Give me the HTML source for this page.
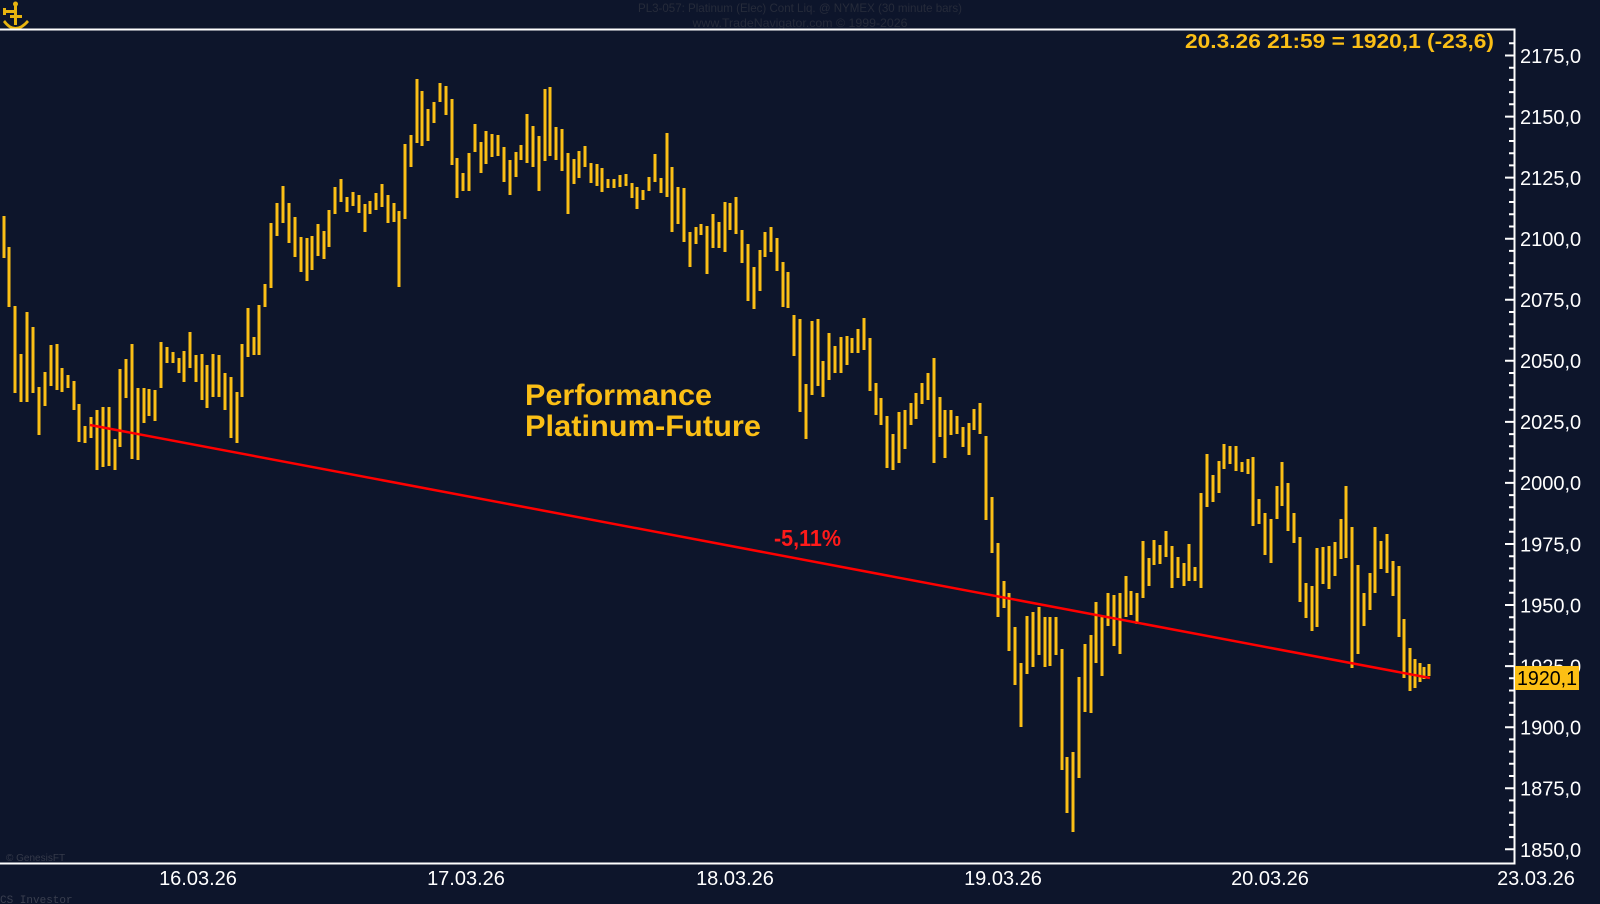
<!DOCTYPE html>
<html>
<head>
<meta charset="utf-8">
<style>
html,body{margin:0;padding:0;background:#0d152b;}
body{width:1600px;height:904px;overflow:hidden;position:relative;}
svg{position:absolute;left:0;top:0;display:block;}
</style>
</head>
<body>
<svg width="1600" height="904" viewBox="0 0 1600 904" xmlns="http://www.w3.org/2000/svg">
<rect x="0" y="0" width="1600" height="904" fill="#0d152b"/>

<!-- logo -->
<g fill="#e8b40f">
<rect x="14" y="3" width="3" height="22"/>
<rect x="4" y="10" width="10" height="3"/>
<rect x="3" y="8" width="3" height="7"/>
<path d="M5 20 Q15 34 27 20 L29 22 Q15 38 3 22 Z"/>
<rect x="10" y="15" width="12" height="3"/>
<circle cx="15.5" cy="4" r="2.5"/>
</g>

<!-- header text -->
<text x="800" y="12" font-family="Liberation Sans, sans-serif" font-size="12" fill="#262b3a" text-anchor="middle" textLength="324" lengthAdjust="spacingAndGlyphs">PL3-057:  Platinum (Elec) Cont Liq. @ NYMEX  (30 minute bars)</text>
<text x="800" y="27" font-family="Liberation Sans, sans-serif" font-size="12" fill="#262b3a" text-anchor="middle" textLength="215" lengthAdjust="spacingAndGlyphs">www.TradeNavigator.com © 1999-2026</text>

<!-- frame -->
<rect x="0" y="28.5" width="1515.5" height="2" fill="#ffffff"/>
<rect x="1513.5" y="28.5" width="2" height="836" fill="#ffffff"/>
<rect x="0" y="862.5" width="1515.5" height="2" fill="#ffffff"/>

<!-- axis ticks -->
<path stroke="#ffffff" stroke-width="2" fill="none" d="
M1509 43.3H1514M1505 55.5H1514M1509 67.7H1514M1509 79.9H1514M1509 92.1H1514M1509 104.3H1514
M1505 116.6H1514M1509 128.8H1514M1509 141H1514M1509 153.2H1514M1509 165.4H1514
M1505 177.6H1514M1509 189.8H1514M1509 202H1514M1509 214.3H1514M1509 226.5H1514
M1505 238.7H1514M1509 250.9H1514M1509 263.1H1514M1509 275.3H1514M1509 287.5H1514
M1505 299.7H1514M1509 312H1514M1509 324.2H1514M1509 336.4H1514M1509 348.6H1514
M1505 360.8H1514M1509 373H1514M1509 385.2H1514M1509 397.4H1514M1509 409.7H1514
M1505 421.9H1514M1509 434.1H1514M1509 446.3H1514M1509 458.5H1514M1509 470.7H1514
M1505 482.9H1514M1509 495.1H1514M1509 507.3H1514M1509 519.6H1514M1509 531.8H1514
M1505 544H1514M1509 556.2H1514M1509 568.4H1514M1509 580.6H1514M1509 592.8H1514
M1505 605H1514M1509 617.3H1514M1509 629.5H1514M1509 641.7H1514M1509 653.9H1514
M1505 666.1H1514M1509 678.3H1514M1509 690.5H1514M1509 702.7H1514M1509 714.9H1514
M1505 727.2H1514M1509 739.4H1514M1509 751.6H1514M1509 763.8H1514M1509 776H1514
M1505 788.2H1514M1509 800.4H1514M1509 812.6H1514M1509 824.9H1514M1509 837.1H1514
M1505 849.3H1514"/>

<!-- axis labels -->
<g font-family="Liberation Sans, sans-serif" font-size="20" fill="#ffffff">
<text x="1520" y="63">2175,0</text>
<text x="1520" y="124">2150,0</text>
<text x="1520" y="185">2125,0</text>
<text x="1520" y="246">2100,0</text>
<text x="1520" y="307">2075,0</text>
<text x="1520" y="368">2050,0</text>
<text x="1520" y="429">2025,0</text>
<text x="1520" y="490">2000,0</text>
<text x="1520" y="551.5">1975,0</text>
<text x="1520" y="612.5">1950,0</text>
<text x="1520" y="673.5">1925,0</text>
<text x="1520" y="734.7">1900,0</text>
<text x="1520" y="795.7">1875,0</text>
<text x="1520" y="856.8">1850,0</text>
</g>

<!-- date labels -->
<g font-family="Liberation Sans, sans-serif" font-size="20" fill="#ffffff" text-anchor="middle">
<text x="198" y="885">16.03.26</text>
<text x="466" y="885">17.03.26</text>
<text x="735" y="885">18.03.26</text>
<text x="1003" y="885">19.03.26</text>
<text x="1270" y="885">20.03.26</text>
<text x="1536" y="885">23.03.26</text>
</g>

<!-- bars -->
<path fill="none" stroke="#fbbf16" stroke-width="3" d="M4 216V258M9 247V307M15 306V393M21 354V402M27 312V402M33 327V393M39 387V435M45 372V406M51 345V386M57 344V390M62 368V392M68 375V388M74 381V410M79 404V442M85 426V443M91 417V438M97 410V470M103 407V467M109 407V466M115 439V470M120 369V447M126 359V398M132 344V459M138 388V460M144 388V423M149 389V416M155 390V421M161 342V388M167 347V363M173 352V363M179 358V373M184 351V382M190 332V368M196 355V382M202 354V400M207 365V408M213 354V397M219 355V397M225 373V410M231 377V438M237 392V443M242 344V397M248 308V357M254 337V355M259 305V355M265 284V307M271 223V288M277 203V236M283 186V223M289 203V243M295 217V257M301 237V272M307 238V281M312 236V270M318 224V256M324 231V259M329 210V247M335 187V214M341 179V202M347 197V212M353 192V206M359 195V213M365 204V232M370 201V214M376 193V210M382 184V207M388 195V223M394 203V222M399 211V287M405 144V219M411 135V167M417 79V143M422 91V146M428 109V141M434 102V123M440 83V102M446 86V115M452 99V165M457 158V198M463 173V191M469 153V191M475 124V152M481 142V173M486 131V164M492 134V157M498 135V156M504 147V182M510 160V195M516 152V177M521 145V160M527 114V163M533 126V167M539 136V191M545 89V161M550 87V156M556 127V160M562 129V171M568 153V214M574 159V184M579 151V178M585 146V167M591 163V183M597 164V186M602 168V192M608 179V188M614 179V188M620 175V187M626 174V186M632 183V198M637 187V209M643 190V200M649 177V191M655 154V182M661 178V193M667 133V197M672 167V232M678 187V224M684 188V242M690 232V267M696 227V244M701 224V235M707 226V274M713 214V248M719 222V248M725 202V252M730 203V230M736 197V234M742 230V263M748 244V301M754 267V309M760 250V291M765 232V257M771 227V252M777 238V271M783 262V307M788 272V308M794 315V356M800 319V412M806 384V439M812 321V395M818 319V386M823 361V397M829 333V380M835 346V373M841 337V373M847 336V365M852 338V353M858 329V353M864 318V350M870 338V391M876 383V415M881 398V425M887 416V468M893 434V470M899 412V463M905 410V449M911 403V425M916 393V419M922 383V404M928 373V400M934 358V463M940 397V437M945 410V458M951 410V435M957 416V434M963 427V447M969 423V455M974 409V430M980 403V434M986 436V520M992 497V553M998 543V617M1004 581V608M1009 593V651M1015 627V685M1021 663V727M1027 616V674M1033 612V667M1039 607V655M1045 617V667M1050 617V666M1056 617V655M1062 649V770M1067 757V813M1073 752V832M1079 677V778M1085 644V712M1091 635V713M1096 602V663M1102 616V676M1108 593V626M1114 595V646M1120 593V654M1126 576V617M1131 591V615M1137 593V624M1143 541V598M1149 558V586M1154 540V565M1160 545V564M1166 531V557M1172 546V588M1178 557V578M1184 563V586M1189 544V581M1195 567V581M1201 493V588M1207 454V507M1213 475V502M1219 461V493M1224 444V469M1230 446V464M1236 446V471M1242 462V472M1248 459V474M1253 457V526M1259 499V524M1265 513V555M1271 519V563M1277 486V519M1282 462V506M1288 483V531M1294 513V543M1300 537V602M1306 583V618M1312 586V631M1317 548V627M1323 547V584M1329 546V589M1335 542V576M1341 519V559M1346 486V558M1352 527V668M1358 565V654M1364 593V626M1370 573V610M1375 527V593M1381 541V569M1387 534V573M1393 561V596M1399 566V637M1404 619V678M1410 648V691M1415 659V688M1420 663V682M1424 667V679M1429 664V676"/>

<!-- trend line -->
<line x1="90" y1="425" x2="1430" y2="678" stroke="#ff0000" stroke-width="2.5"/>

<!-- annotations -->
<text x="774" y="546" font-family="Liberation Sans, sans-serif" font-weight="bold" font-size="23" fill="#ff1a1a" textLength="67" lengthAdjust="spacingAndGlyphs">-5,11%</text>
<text x="525" y="405" font-family="Liberation Sans, sans-serif" font-weight="bold" font-size="30" fill="#fbbf16" textLength="187" lengthAdjust="spacingAndGlyphs">Performance</text>
<text x="525" y="436" font-family="Liberation Sans, sans-serif" font-weight="bold" font-size="30" fill="#fbbf16" textLength="236" lengthAdjust="spacingAndGlyphs">Platinum-Future</text>
<text x="1185" y="48" font-family="Liberation Sans, sans-serif" font-weight="bold" font-size="20" fill="#fbbf16" textLength="309" lengthAdjust="spacingAndGlyphs">20.3.26 21:59 = 1920,1 (-23,6)</text>

<!-- price box -->
<rect x="1515" y="666" width="64" height="24" fill="#fcbf14"/>
<text x="1517" y="685" font-family="Liberation Sans, sans-serif" font-size="20" fill="#000000" textLength="60" lengthAdjust="spacingAndGlyphs">1920,1</text>

<!-- footers -->
<text x="6" y="861" font-family="Liberation Sans, sans-serif" font-size="10" fill="#353a4a">© GenesisFT</text>
<text x="0" y="903" font-family="Liberation Mono, monospace" font-size="11" fill="#3a3f4f">CS Investor</text>
</svg>
</body>
</html>
